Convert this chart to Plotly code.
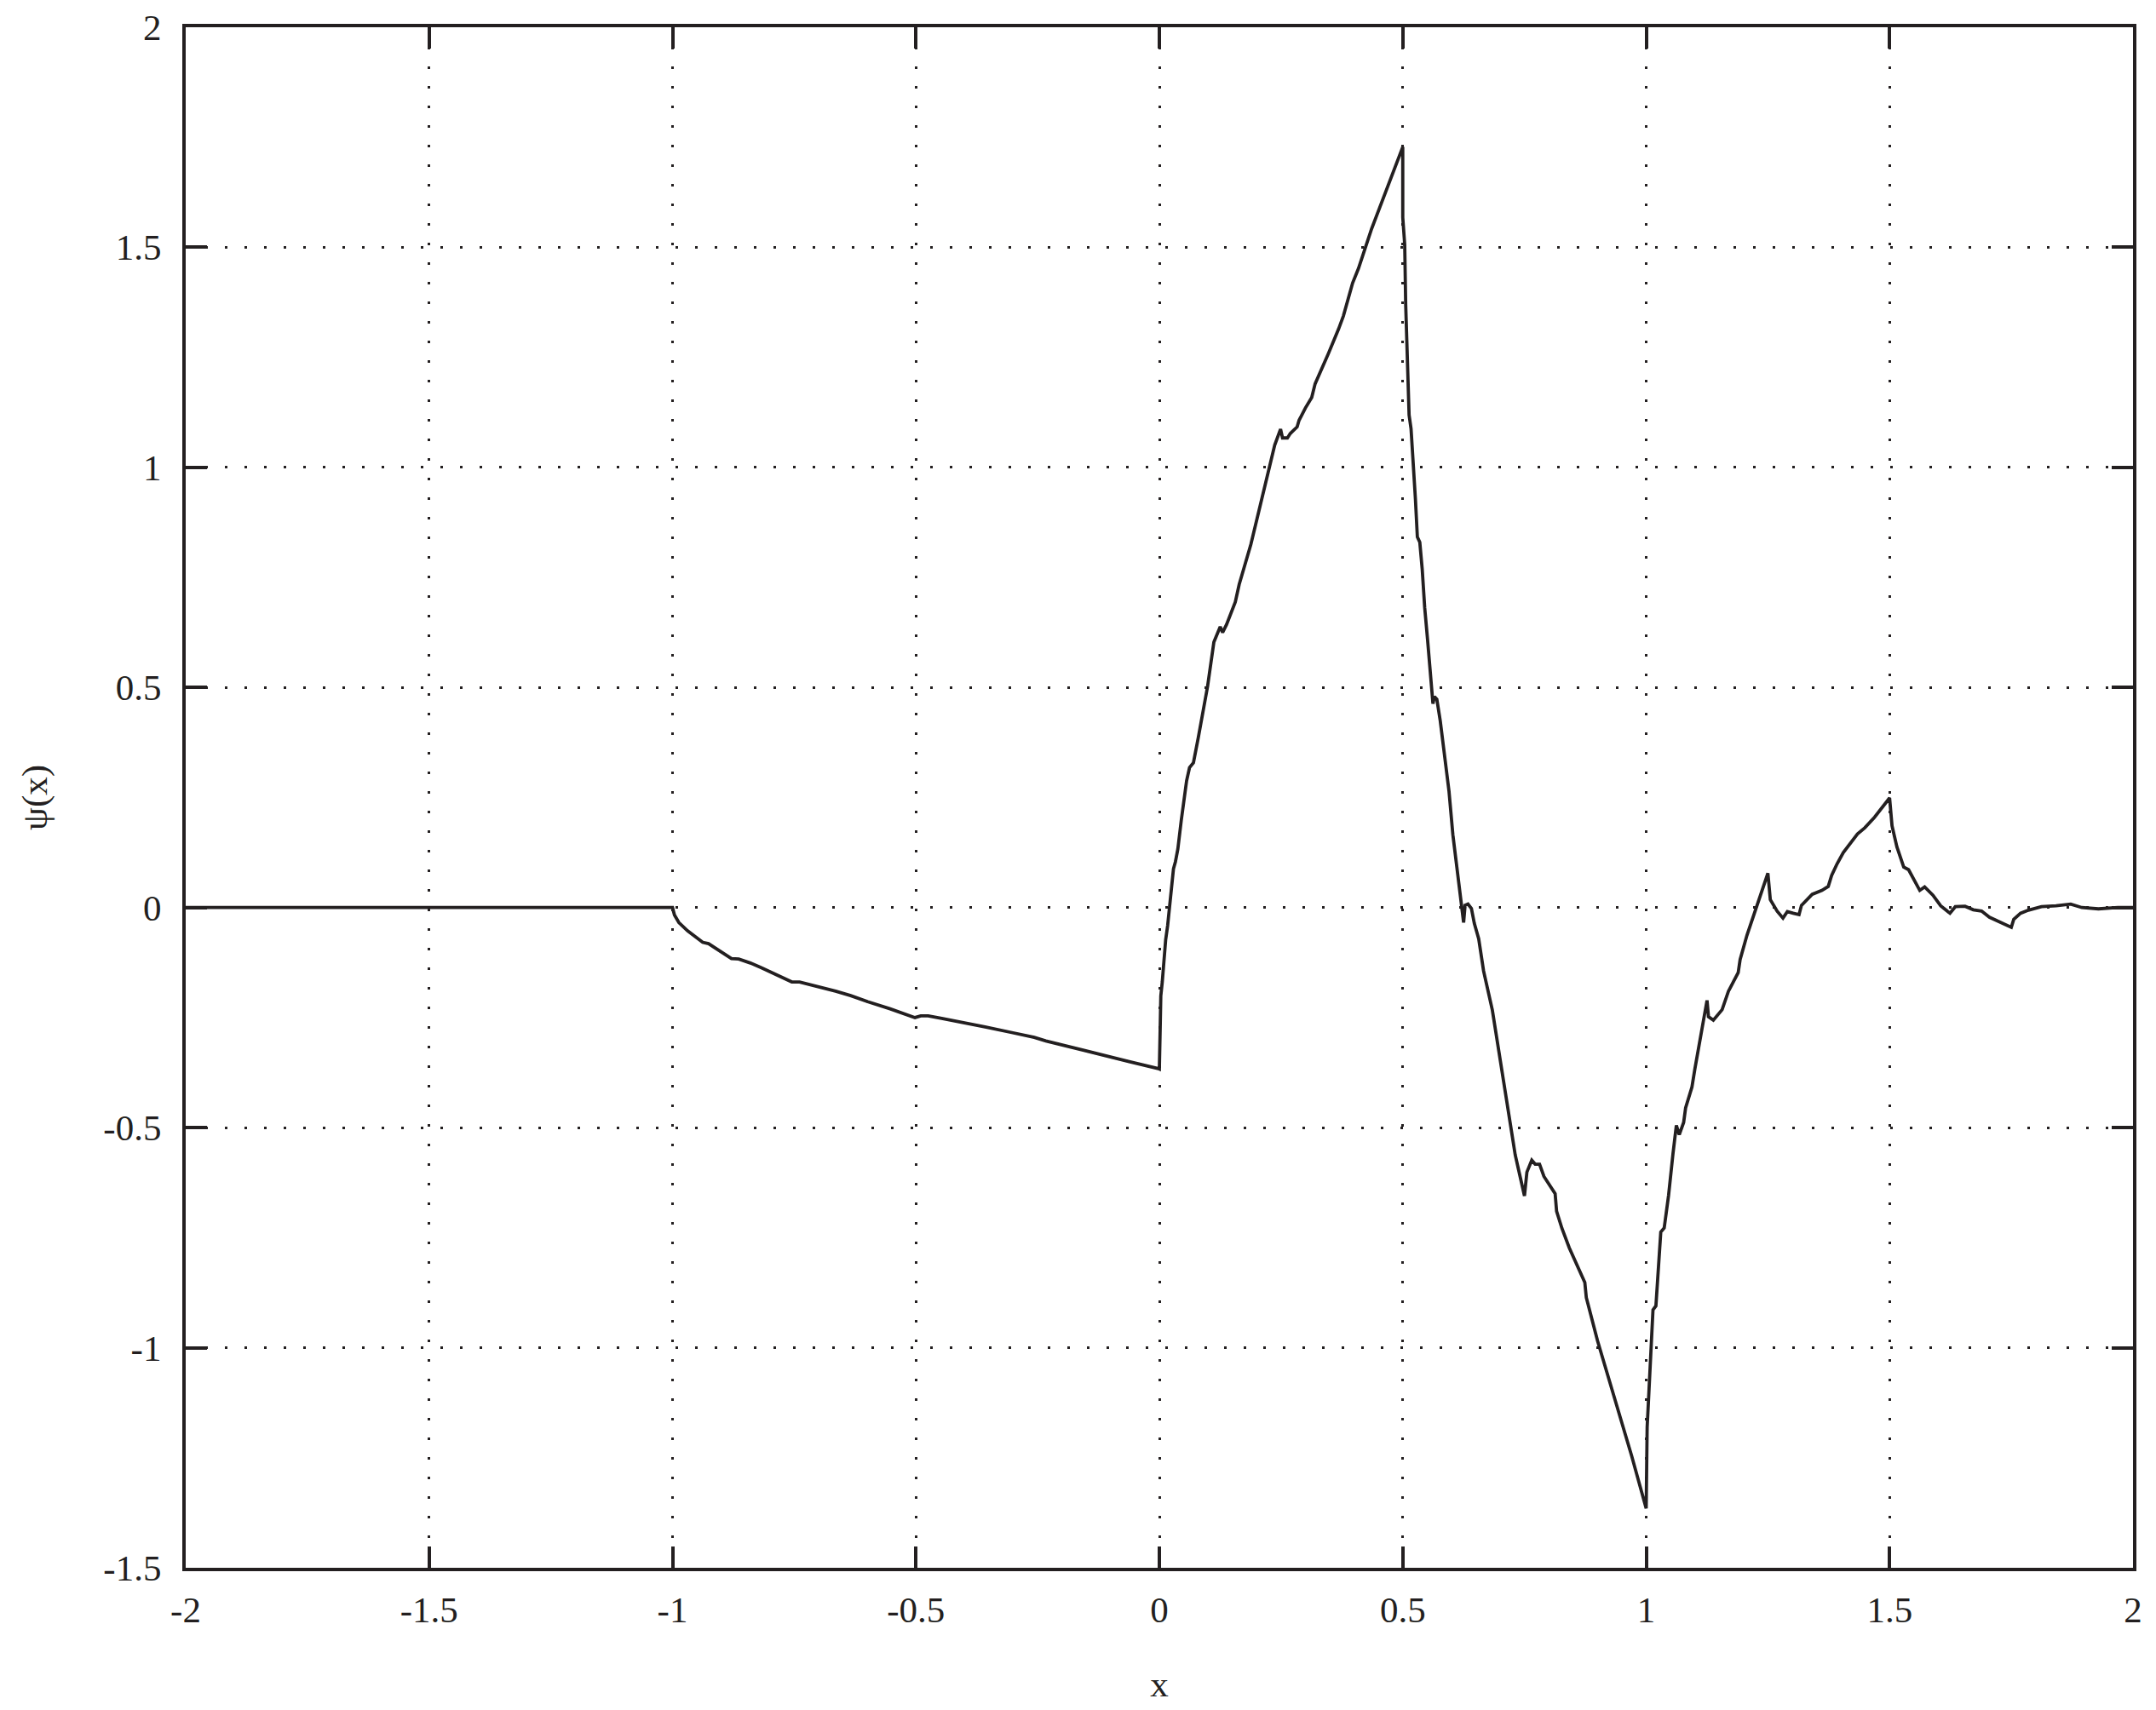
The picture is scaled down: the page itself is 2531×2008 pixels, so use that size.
import plotly.graph_objects as go

# psi(x), split by interval
x_flat = [-2.0, -1.0]
y_flat = [0.0, 0.0]

x_neg = [-0.996, -0.987, -0.969, -0.957, -0.938, -0.926, -0.903, -0.879, -0.864, -0.840,
         -0.817, -0.790, -0.755, -0.739, -0.693, -0.665, -0.634, -0.599, -0.553, -0.502,
         -0.490, -0.475, -0.447, -0.405, -0.377, -0.358, -0.303, -0.257, -0.233, -0.187,
         -0.132, -0.062, -0.002]
y_neg = [-0.017, -0.034, -0.053, -0.063, -0.079, -0.082, -0.098, -0.116, -0.117, -0.126,
         -0.137, -0.151, -0.169, -0.169, -0.181, -0.190, -0.200, -0.214, -0.230, -0.250,
         -0.246, -0.246, -0.252, -0.261, -0.266, -0.271, -0.284, -0.295, -0.303, -0.316,
         -0.330, -0.350, -0.366]

x_rise = [0.0, 0.002, 0.003, 0.006, 0.009, 0.013, 0.017, 0.021, 0.025, 0.029,
          0.033, 0.038, 0.045, 0.051, 0.056, 0.062, 0.070, 0.080, 0.089, 0.099,
          0.112, 0.125, 0.130, 0.138, 0.156, 0.164, 0.188, 0.202, 0.220, 0.237,
          0.249, 0.253, 0.263, 0.269, 0.283, 0.287, 0.300, 0.313, 0.320, 0.336,
          0.347, 0.368, 0.378, 0.397, 0.409, 0.436, 0.458, 0.476, 0.500]
y_rise = [-0.367, -0.259, -0.201, -0.169, -0.118, -0.073, -0.041, -0.002, 0.050, 0.088,
          0.104, 0.133, 0.198, 0.243, 0.288, 0.318, 0.329, 0.386, 0.444, 0.502,
          0.603, 0.638, 0.625, 0.643, 0.694, 0.734, 0.825, 0.890, 0.976, 1.051,
          1.087, 1.067, 1.067, 1.077, 1.092, 1.107, 1.135, 1.159, 1.190, 1.233,
          1.258, 1.314, 1.344, 1.419, 1.452, 1.542, 1.606, 1.656, 1.728]

x_fall = [0.500, 0.504, 0.506, 0.509, 0.513, 0.517, 0.521, 0.526, 0.530, 0.535,
          0.540, 0.545, 0.551, 0.557, 0.562, 0.565, 0.570, 0.577, 0.586, 0.595,
          0.603, 0.612, 0.620, 0.625, 0.628, 0.634, 0.641, 0.647, 0.656, 0.666,
          0.684, 0.697, 0.714, 0.731, 0.750, 0.755, 0.765, 0.772, 0.781, 0.790,
          0.813, 0.816, 0.827, 0.842, 0.874, 0.877, 0.900, 0.941, 0.970, 1.000]
y_fall = [1.568, 1.506, 1.371, 1.260, 1.119, 1.088, 1.026, 0.928, 0.842, 0.830,
          0.768, 0.682, 0.608, 0.534, 0.463, 0.479, 0.473, 0.424, 0.338, 0.264,
          0.165, 0.079, 0.012, -0.034, 0.005, 0.008, -0.002, -0.036, -0.071, -0.144,
          -0.233, -0.321, -0.439, -0.562, -0.655, -0.601, -0.574, -0.583, -0.583, -0.611,
          -0.650, -0.690, -0.729, -0.773, -0.852, -0.886, -0.984, -1.137, -1.245, -1.365]

x_tail = [1.002, 1.006, 1.014, 1.020, 1.030, 1.037, 1.046, 1.055, 1.062, 1.068,
          1.077, 1.081, 1.094, 1.100, 1.125, 1.128, 1.138, 1.156, 1.169, 1.189,
          1.193, 1.207, 1.225, 1.250, 1.255, 1.269, 1.281, 1.290, 1.302, 1.314,
          1.319, 1.341, 1.361, 1.374, 1.381, 1.392, 1.405, 1.434, 1.449, 1.469,
          1.500, 1.505, 1.515, 1.529, 1.539, 1.562, 1.572, 1.589, 1.605, 1.624,
          1.635, 1.655, 1.672, 1.689, 1.705, 1.750, 1.755, 1.769, 1.785, 1.812,
          1.842, 1.872, 1.895, 1.929, 1.969, 2.000]
y_tail = [-1.181, -1.092, -0.914, -0.905, -0.737, -0.728, -0.654, -0.560, -0.495, -0.516,
          -0.488, -0.455, -0.408, -0.367, -0.211, -0.248, -0.256, -0.232, -0.190, -0.148,
          -0.118, -0.063, -0.005, 0.078, 0.018, -0.008, -0.024, -0.009, -0.013, -0.016,
          0.005, 0.030, 0.039, 0.048, 0.073, 0.099, 0.125, 0.167, 0.181, 0.205,
          0.249, 0.186, 0.138, 0.092, 0.086, 0.039, 0.047, 0.028, 0.004, -0.013,
          0.002, 0.003, -0.005, -0.008, -0.022, -0.045, -0.027, -0.013, -0.006, 0.002,
          0.004, 0.008, 0.000, -0.003, 0.000, 0.000]

xs = x_flat + x_neg + x_rise + x_fall + x_tail
ys = y_flat + y_neg + y_rise + y_fall + y_tail

tick_vals_x = [-2, -1.5, -1, -0.5, 0, 0.5, 1, 1.5, 2]
tick_text_x = ["-2", "-1.5", "-1", "-0.5", "0", "0.5", "1", "1.5", "2"]
tick_vals_y = [-1.5, -1, -0.5, 0, 0.5, 1, 1.5, 2]
tick_text_y = ["-1.5", "-1", "-0.5", "0", "0.5", "1", "1.5", "2"]

ink = "#231f20"
font = "Liberation Serif"

fig = go.Figure(go.Scatter(x=xs, y=ys, mode="lines",
                           line=dict(color=ink, width=3.8), showlegend=False))

axis_common = dict(
    showline=True, linecolor=ink, linewidth=4, mirror="ticks",
    ticks="inside", ticklen=25, tickwidth=4, tickcolor=ink,
    showgrid=True, gridcolor=ink, gridwidth=2.5, griddash="3px,20px",
    zeroline=False, tickfont=dict(family=font, size=43, color=ink),
)

fig.update_xaxes(range=[-2, 2], tickvals=tick_vals_x, ticktext=tick_text_x,
                 ticklabelstandoff=8,
                 title=dict(text="x", font=dict(family=font, size=43, color=ink), standoff=50),
                 **axis_common)
fig.update_yaxes(range=[-1.5, 2], tickvals=tick_vals_y, ticktext=tick_text_y,
                 ticklabelstandoff=16,
                 title=dict(text="ψ(x)", font=dict(family=font, size=43, color=ink), standoff=53),
                 **axis_common)

fig.update_layout(
    width=2531, height=2008,
    margin=dict(l=210, r=35, t=24, b=175, autoexpand=False),
    paper_bgcolor="white", plot_bgcolor="white",
)

fig.write_html("out.html")
